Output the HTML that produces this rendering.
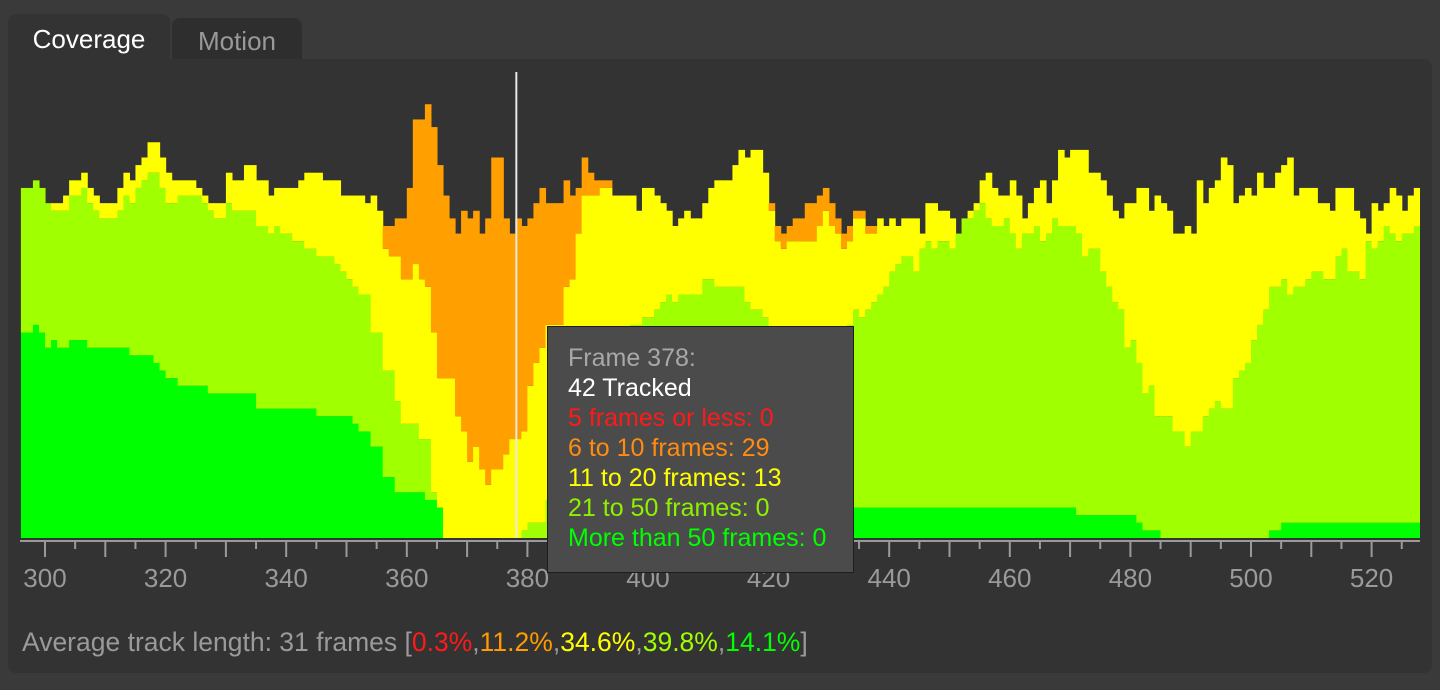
<!DOCTYPE html>
<html><head><meta charset="utf-8"><style>
html,body{margin:0;padding:0;background:#3a3a3a;width:1440px;height:690px;overflow:hidden;font-family:"Liberation Sans",sans-serif}
.tab{position:absolute;border-radius:8px 8px 0 0;font-size:26px;text-align:center}
#panel{position:absolute;left:8px;top:59px;width:1424px;height:614px;background:#333;border-radius:0 8px 8px 8px}
#tip{position:absolute;left:547px;top:326px;width:307px;height:247px;background:#4b4b4b;border:1px solid #1e1e1e;font-size:25px;box-sizing:border-box;padding:16px 0 0 20px;line-height:30px;white-space:nowrap}
#foot{position:absolute;left:22px;top:627px;font-size:26.5px;color:#9a9a9a;white-space:nowrap}
</style></head><body>
<div class="tab" style="left:8px;top:14px;width:162px;height:46px;background:#333;color:#fff;line-height:50px">Coverage</div>
<div class="tab" style="left:172px;top:18px;width:130px;height:42px;background:#2e2e2e;color:#999;line-height:46px">Motion</div>
<div id="panel"></div>
<svg id="chart" width="1440" height="690" style="position:absolute;left:0;top:0"></svg>
<div id="tip">
<div style="color:#a8a8a8">Frame 378:</div>
<div style="color:#fff">42 Tracked</div>
<div style="color:#ff1a1a">5 frames or less: 0</div>
<div style="color:#ff8c10">6 to 10 frames: 29</div>
<div style="color:#ffff00">11 to 20 frames: 13</div>
<div style="color:#8ff000">21 to 50 frames: 0</div>
<div style="color:#00ff00">More than 50 frames: 0</div>
</div>
<div id="foot">Average track length: 31 frames [<span style="color:#ff1a1a">0.3%</span>,<span style="color:#ff9a00">11.2%</span>,<span style="color:#ffff00">34.6%</span>,<span style="color:#9fff00">39.8%</span>,<span style="color:#00ff00">14.1%</span>]</div>
<script>
const firstFrame = 296;
const green = [27,27,28,27,25,26,25,25,26,26,26,25,25,25,25,25,25,25,24,24,24,24,23,22,21,21,20,20,20,20,20,19,19,19,19,19,19,19,19,17,17,17,17,17,17,17,17,17,17,16,16,16,16,16,16,15,14,14,12,12,
8,8,6,6,6,6,6,5,5,4,
0,0,0,0,0,0,0,0,0,0,
0,0,0,0,0,0,0,0,0,0,
0,0,0,0,0,0,0,0,0,0,
0,0,0,0,0,0,0,0,0,
4,4,4,4,4,4,4,
4,4,4,4,4,4,4,4,4,4,
4,4,4,4,4,4,4,4,4,4,
4,4,4,4,4,4,4,4,4,4,
4,4,4,4,4,4,4,4,4,4,
4,4,4,4,4,4,4,4,4,4,
4,4,4,4,4,4,4,4,
4,3,3,3,3,3,3,3,3,3,3,2,1,1,1,
0,0,0,0,0,0,0,0,0,0,
0,0,0,0,0,0,0,0,
1,1,
2,2,2,2,2,2,2,2,2,2,
2,2,2,2,2,2,2,2,2,2,
2,2,2];
const lime = [19,19,19,19,19,17,18,18,19,19,20,19,18,17,17,17,18,20,20,22,23,24,25,24,23,23,25,25,25,25,24,24,23,23,25,24,24,24,24,24,24,23,24,23,23,22,22,21,21,21,21,21,20,19,18,18,18,18,15,15,
14,14,12,9,9,9,7,8,1,0,0,0,0,0,0,0,0,0,0,0,0,0,0,1,2,2,2,5,8,10,13,15,17,19,21,22,24,25,26,27,27,28,28,29,29,30,31,32,31,28,28,28,28,30,30,29,
29,29,29,29,27,26,26,25,23,22,21,21,21,21,21,21,21,21,21,22,23,24,26,25,26,27,28,29,31,32,33,33,31,34,35,34,35,35,34,36,38,38,39,40,38,37,37,38,36,34,36,36,37,35,36,38,37,37,
37,37,34,35,35,32,30,28,27,22,23,21,18,19,15,16,16,14,14,12,14,14,16,17,18,17,17,21,22,23,26,28,30,32,32,32,30,31,31,32,33,33,32,32,35,36,33,33,32,37,36,37,39,38,37,38,38,39];
const yellow = [0,0,0,0,0,1,1,2,2,2,2,2,2,2,2,2,3,3,3,3,3,4,4,4,4,3,2,2,2,1,1,1,2,2,4,4,4,6,6,6,6,5,5,6,6,7,8,10,10,11,10,10,11,10,11,12,13,12,18,16,
16,15,19,19,19,21,21,20,21,17,21,21,16,14,10,12,9,7,9,9,11,13,13,13,18,21,23,23,20,18,20,19,23,26,24,23,22,21,19,18,18,17,15,17,17,15,13,11,10,10,11,10,10,10,12,14,
14,14,16,18,19,21,21,19,16,13,13,14,14,14,14,14,16,18,16,14,11,11,12,13,10,9,10,8,7,5,5,5,7,2,5,6,4,4,4,0,0,1,1,3,6,5,4,3,7,7,2,4,5,8,4,5,10,9,
10,11,14,10,10,12,12,12,12,19,18,23,27,23,29,28,27,26,26,29,26,33,28,29,29,33,32,23,23,23,19,20,16,13,15,15,18,12,13,12,11,9,10,9,9,8,11,8,8,1,6,4,3,6,6,3,5,5];
const orange = [0,0,0,0,0,0,0,0,0,0,0,0,0,0,0,0,0,0,0,0,0,0,0,0,0,0,0,0,0,0,0,0,0,0,0,0,0,0,0,0,0,0,0,0,0,0,0,0,0,0,0,0,0,0,0,0,0,0,0,0,
3,4,5,8,12,19,21,24,27,28,24,21,24,29,32,31,31,35,41,41,31,27,29,27,22,21,21,16,16,16,14,11,6,5,3,2,1,1,0,0,0,0,0,0,0,0,0,0,0,0,0,0,0,0,0,0,
0,0,0,0,0,0,0,0,1,2,2,2,3,3,5,5,4,3,3,2,2,2,1,1,1,1,0,0,0,0,0,0,0,0,0,0,0,0,0,0,0,0,0,0,0,0,0,0,0,0,0,0,0,0,0,0,0,0,
0,0,0,0,0,0,0,0,0,0,0,0,0,0,0,0,0,0,0,0,0,0,0,0,0,0,0,0,0,0,0,0,0,0,0,0,0,0,0,0,0,0,0,0,0,0,0,0,0,0,0,0,0,0,0,0,0,0];
const red = new Array(232).fill(0);
const tickLabels = [300,320,340,360,380,400,420,440,460,480,500,520];
const cursorFrame = 378;

const NS='http://www.w3.org/2000/svg';
const svg=document.getElementById('chart');
const X=f=>45+6.03*(f-300);
const BASE=538, U=7.61;
const Y=v=>BASE-v*U;
function mk(t,a){const e=document.createElementNS(NS,t);for(const k in a)e.setAttribute(k,a[k]);svg.appendChild(e);return e;}
const series=[[green,'#00ff00','green'],[lime,'#a0ff00','lime'],[yellow,'#ffff00','yellow'],[orange,'#ff9f00','orange'],[red,'#ff0000','red']];
const n=Math.max(green.length,lime.length,yellow.length,orange.length);
for(let i=0;i<n;i++){
  const f=firstFrame+i;if(f>527)break;let acc=0;
  for(const [arr,col,nm] of series){
    const v=arr[i]||0; if(v<=0) continue;
    const r=mk('rect',{x:X(f),y:Y(acc+v),width:Math.min(6.6,1420-X(f)),height:v*U,fill:col});
    
    
    acc+=v;
  }
}
const ax=mk('rect',{x:20,y:540,width:1400,height:2,fill:'#9a9a9a'});


for(let f=300;f<=525;f+=5){
  const maj=f%10===0;
  const t=mk('rect',{x:X(f)-1,y:541,width:2,height:maj?16:8,fill:'#9a9a9a'});
  
  
}
for(const v of tickLabels){
  const t=mk('text',{x:X(v),y:587,'text-anchor':'middle','font-size':26,fill:'#9a9a9a','font-family':'Liberation Sans, sans-serif'});
  t.textContent=v;
  
  
}
const cl=mk('rect',{x:X(cursorFrame),y:72,width:2,height:466,fill:'#e8e8e8'});


</script>
</body></html>
